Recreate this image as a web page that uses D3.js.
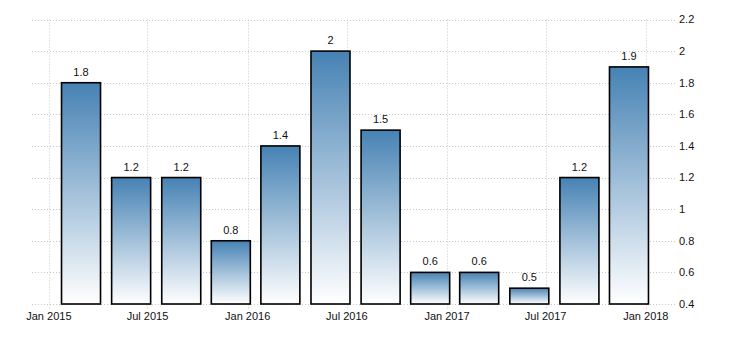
<!DOCTYPE html>
<html>
<head>
<meta charset="utf-8">
<script src="https://cdn.jsdelivr.net/npm/d3@7"></script>
<style>
  body { margin: 0; background: #fff; }
  text { font-family: "Liberation Sans", Arial, sans-serif; font-size: 11px; fill: #111; }
</style>
</head>
<body>
<div id="chart"></div>
<script>
// quarterly values, plotted at the last month of each quarter
var quarters = ['2015-03-01', '2015-06-01', '2015-09-01', '2015-12-01',
                '2016-03-01', '2016-06-01', '2016-09-01', '2016-12-01',
                '2017-03-01', '2017-06-01', '2017-09-01', '2017-12-01'];
var values = [1.8, 1.2, 1.2, 0.8, 1.4, 2, 1.5, 0.6, 0.6, 0.5, 1.2, 1.9];
var xTicks = ['2015-01-01', '2015-07-01', '2016-01-01', '2016-07-01',
              '2017-01-01', '2017-07-01', '2018-01-01'];
var yTicks = [0.4, 0.6, 0.8, 1, 1.2, 1.4, 1.6, 1.8, 2, 2.2];

var width = 730, height = 340;
var parse = d3.timeParse('%Y-%m-%d');

var x = d3.scaleTime()
    .domain([parse('2014-12-01'), parse('2018-03-01')])
    .range([32, 678]);

var y = d3.scaleLinear()
    .domain([0.4, 2.2])
    .range([304, 19.5]);

var barWidth = 39;

var svg = d3.select('#chart')
    .append('svg')
    .attr('width', width)
    .attr('height', height);

var defs = svg.append('defs');
var grad = defs.append('linearGradient')
    .attr('id', 'barGrad')
    .attr('x1', 0).attr('y1', 0)
    .attr('x2', 0).attr('y2', 1);
grad.append('stop').attr('offset', '0%').attr('stop-color', '#4682b4');
grad.append('stop').attr('offset', '100%').attr('stop-color', '#ffffff');

// horizontal grid + right axis labels
var yg = svg.append('g');
yg.selectAll('line')
    .data(yTicks)
    .enter().append('line')
    .attr('x1', 32)
    .attr('x2', 677)
    .attr('y1', function (d) { return Math.round(y(d)) + 0.5; })
    .attr('y2', function (d) { return Math.round(y(d)) + 0.5; })
    .attr('stroke', '#c8c8c8')
    .attr('stroke-dasharray', '1,2');

yg.selectAll('text')
    .data(yTicks)
    .enter().append('text')
    .attr('x', 679)
    .attr('y', function (d) { return y(d); })
    .attr('dy', '0.35em')
    .text(function (d) { return String(+d.toFixed(1)); });

// vertical grid + bottom labels
var xg = svg.append('g');
xg.selectAll('line')
    .data(xTicks)
    .enter().append('line')
    .attr('x1', function (d) { return Math.round(x(parse(d))) + 0.5; })
    .attr('x2', function (d) { return Math.round(x(parse(d))) + 0.5; })
    .attr('y1', 19.5)
    .attr('y2', 309)
    .attr('stroke', '#c8c8c8')
    .attr('stroke-dasharray', '1,2');

var fmt = d3.timeFormat('%b %Y');
xg.selectAll('text')
    .data(xTicks)
    .enter().append('text')
    .attr('x', function (d) { return x(parse(d)); })
    .attr('y', 320)
    .attr('text-anchor', 'middle')
    .text(function (d) { return fmt(parse(d)); });

// bars
var bars = svg.append('g');
bars.selectAll('rect')
    .data(values)
    .enter().append('rect')
    .attr('x', function (d, i) { return x(parse(quarters[i])) - barWidth / 2; })
    .attr('y', function (d) { return y(d); })
    .attr('width', barWidth)
    .attr('height', function (d) { return y(0.4) - y(d); })
    .attr('fill', 'url(#barGrad)')
    .attr('stroke', '#000')
    .attr('stroke-width', 1.6);

bars.selectAll('text')
    .data(values)
    .enter().append('text')
    .attr('x', function (d, i) { return x(parse(quarters[i])); })
    .attr('y', function (d) { return y(d) - 7; })
    .attr('text-anchor', 'middle')
    .text(function (d) { return d; });
</script>
</body>
</html>
